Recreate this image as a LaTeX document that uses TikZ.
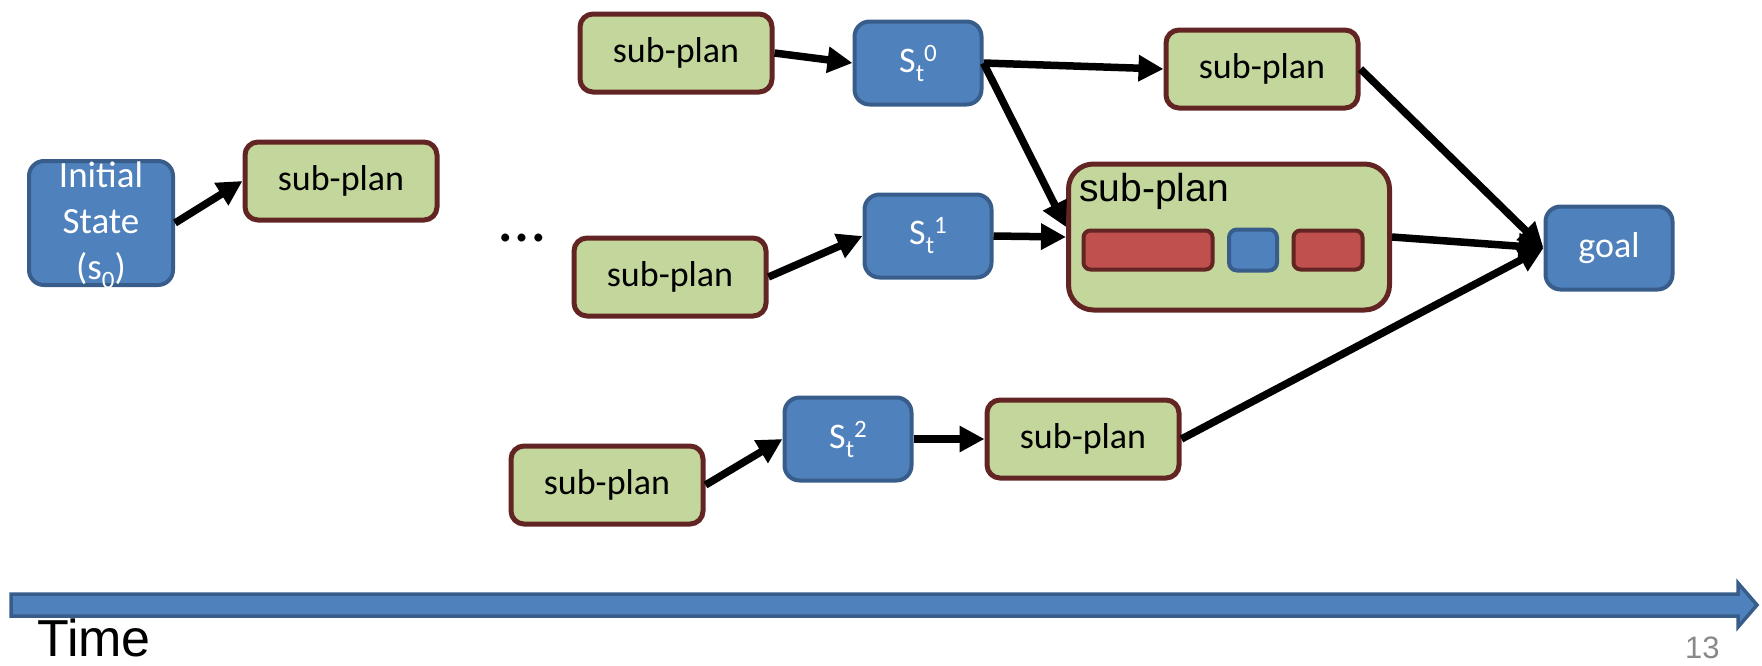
\documentclass[tikz,border=0pt]{standalone}
\usepackage{fontspec}
\setmainfont{Carlito}
\newfontfamily\arialfont{Liberation Sans}
\usetikzlibrary{arrows.meta}
\definecolor{planfill}{HTML}{C3D69B}
\definecolor{planline}{HTML}{632523}
\definecolor{statefill}{HTML}{4F81BD}
\definecolor{stateline}{HTML}{385D8A}
\definecolor{actfill}{HTML}{C0504D}
\definecolor{pagenum}{HTML}{898989}
% lowered / raised indices for the state labels
\newcommand\lowtxt[1]{\raisebox{-9pt}{\fontsize{25}{25}\selectfont #1}}
\newcommand\hightxt[1]{\raisebox{11pt}{\fontsize{25}{25}\selectfont #1}}
\begin{document}
\begin{tikzpicture}[x=1pt,y=-1pt,
  every node/.style={inner sep=0pt, font=\fontsize{36}{44}\selectfont},
  plan/.style={draw=planline, fill=planfill, line width=5pt, rounded corners=13pt,
    minimum width=192pt, minimum height=78pt},
  state/.style={draw=stateline, fill=statefill, line width=4pt, rounded corners=15pt,
    text=white, minimum width=127pt, minimum height=83pt},
  act/.style={draw=planline, fill=actfill, line width=4pt, rounded corners=7pt,
    minimum height=39pt},
  conn/.style={line width=7.5pt, -{Triangle[length=25pt,width=25pt]}},
  timebar/.style={draw=stateline, fill=statefill, line width=3.5pt},
]
\useasboundingbox (0,0) rectangle (1762,665);

% initial state and the first sub-plan
\node[state, minimum width=144pt, minimum height=124pt, align=center,
  font=\fontsize{37}{46}\selectfont] (init) at (101,223)
  {Initial\\State\\(s\smash{\lowtxt{0}})};
\node[plan] (A) at (341,181) {sub-plan};
\node (dots) at (522,238) {\fontsize{66}{66}\selectfont …};

% upper branch
\node[plan] (B) at (676,53) {sub-plan};
\node[state] (S0) at (918,63) {S\lowtxt{t}\hightxt{0}};
\node[plan] (C) at (1262,69) {sub-plan};

% middle branch
\node[plan] (E) at (670,277) {sub-plan};
\node[state] (S1) at (928,236) {S\lowtxt{t}\hightxt{1}};
\node[draw=planline, fill=planfill, line width=5pt, rounded corners=25pt,
  minimum width=321pt, minimum height=146pt] (D) at (1229,237) {};
\node[anchor=base west, font=\arialfont\fontsize{39}{39}\selectfont] (Dlabel) at (1079,201) {sub-plan};
\node[act, minimum width=129pt] (a1) at (1148,250) {};
\node[state, minimum width=48pt, minimum height=41pt, rounded corners=8pt] (s1in) at (1253,250) {};
\node[act, minimum width=69pt] (a2) at (1328,250) {};

% lower branch
\node[plan] (F) at (607,485) {sub-plan};
\node[state] (S2) at (848,439) {S\lowtxt{t}\hightxt{2}};
\node[plan] (G) at (1083,439) {sub-plan};

% goal
\node[state] (goal) at (1609,248) {goal};

% connectors
\draw[conn] (init.east) -- (A.west);
\draw[conn] (B.east) -- (S0.west);
\draw[conn] (S0.east) -- (C.west);
\draw[conn] (S0.east) -- ([yshift=10pt]D.west);
\draw[conn] (E.east) -- (S1.west);
\draw[conn] (S1.east) -- (D.west);
\draw[conn] (F.east) -- (S2.west);
\draw[conn] (S2.east) -- (G.west);
\draw[conn] (C.east) -- (goal.west);
\draw[conn] (D.east) -- (goal.west);
\draw[conn] (G.east) -- (goal.west);

% time axis
\draw[timebar] (11,594) -- (1738,594) -- (1738,583) -- (1757,605) -- (1738,627)
  -- (1738,616) -- (11,616) -- cycle;
\node[anchor=base west, font=\arialfont\fontsize{52}{52}\selectfont] (time) at (37,656) {Time};
\node[anchor=base west, text=pagenum, font=\arialfont\fontsize{31}{31}\selectfont] (page) at (1685,658) {13};
\end{tikzpicture}
\end{document}
